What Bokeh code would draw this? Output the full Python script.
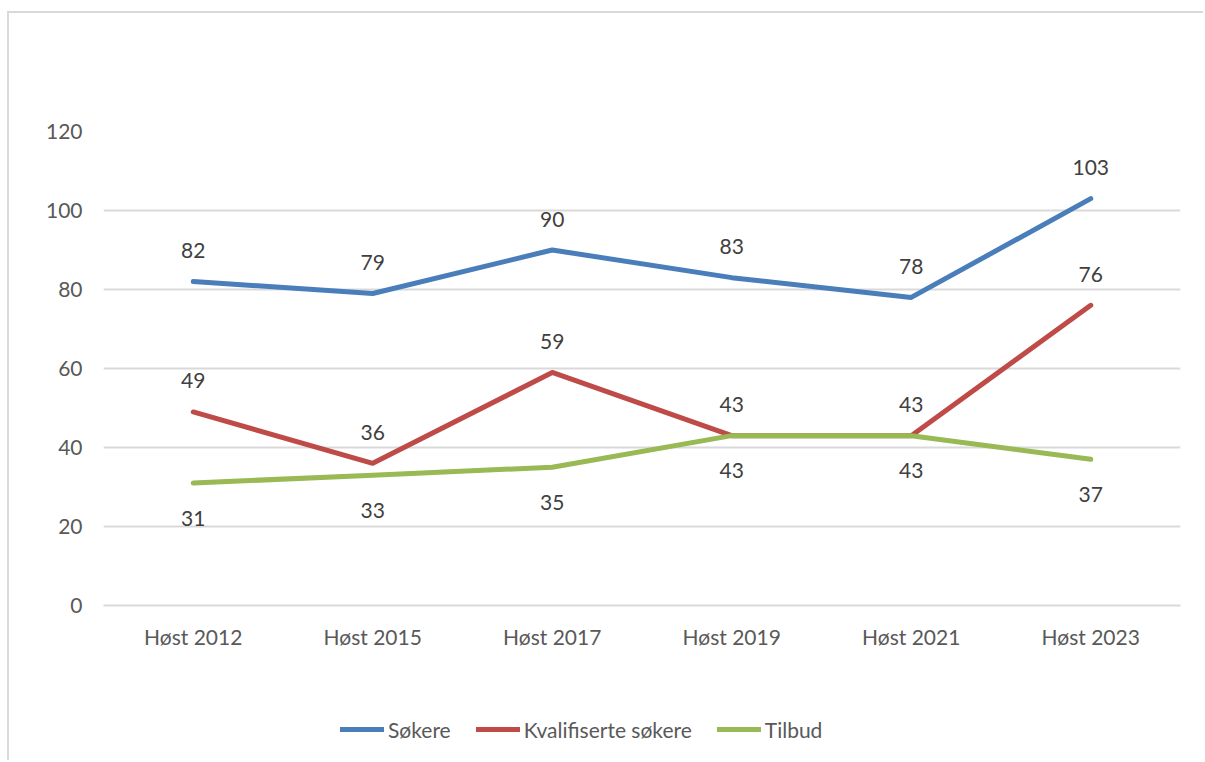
from bokeh.plotting import figure
from bokeh.layouts import column
from bokeh.models import Range1d, FactorRange, Legend, LegendItem
from bokeh.core.properties import value
from bokeh.embed import file_html
from bokeh.resources import INLINE

categories = ["Høst 2012", "Høst 2015", "Høst 2017", "Høst 2019", "Høst 2021", "Høst 2023"]
sokere = [82, 79, 90, 83, 78, 103]
kvalifiserte = [49, 36, 59, 43, 43, 76]
tilbud = [31, 33, 35, 43, 43, 37]
series_names = ["Søkere", "Kvalifiserte søkere", "Tilbud"]
y_ticks = [0, 20, 40, 60, 80, 100, 120]

FONT = "Lato"
FS = "21px"
colors = ["#4A7EBB", "#BE4B48", "#98B954"]
LW = 5

p = figure(width=1194, height=642, x_range=FactorRange(factors=categories),
           y_range=Range1d(0, 120), output_backend="svg", toolbar_location=None,
           min_border_left=94, min_border_right=23, min_border_top=118, min_border_bottom=50)
p.outline_line_color = None
p.background_fill_color = "white"
p.border_fill_color = "white"

p.xgrid.grid_line_color = None
p.ygrid.grid_line_color = "#d9d9d9"
p.ygrid.grid_line_width = 2

p.yaxis.ticker = y_ticks
p.yaxis.axis_line_color = None
p.yaxis.major_tick_line_color = None
p.yaxis.minor_tick_line_color = None
p.yaxis.major_tick_out = 0
p.yaxis.major_tick_in = 0
p.yaxis.major_label_standoff = 21
p.yaxis.major_label_text_font = FONT
p.yaxis.major_label_text_font_size = FS
p.yaxis.major_label_text_color = "#595959"

p.xaxis.axis_line_color = "#d9d9d9"
p.xaxis.axis_line_width = 2
p.xaxis.major_tick_line_color = None
p.xaxis.minor_tick_line_color = None
p.xaxis.major_tick_out = 0
p.xaxis.major_tick_in = 0
p.xaxis.major_label_standoff = 18
p.xaxis.major_label_text_font = FONT
p.xaxis.major_label_text_font_size = FS
p.xaxis.major_label_text_color = "#595959"

data = [sokere, kvalifiserte, tilbud]
offsets = [-31, -31, 35]
for name, vals, col, off in zip(series_names, data, colors, offsets):
    p.line(categories, vals, line_color=col, line_width=LW, line_join="round", line_cap="round")
    p.text(categories, vals, text=[str(v) for v in vals], text_align="center",
           text_baseline="middle", y_offset=off, text_font=value(FONT),
           text_font_size=FS, text_color="#404040")

# legend strip below the chart (proxy renderers carry the series styles, draw nothing)
lg = figure(width=1194, height=105, x_range=Range1d(0, 1), y_range=Range1d(0, 1),
            output_backend="svg", toolbar_location=None,
            x_axis_location=None, y_axis_location=None,
            min_border_left=0, min_border_right=0, min_border_top=0, min_border_bottom=0)
lg.outline_line_color = None
lg.grid.visible = False
lg.background_fill_color = "white"
lg.border_fill_color = "white"
items = []
for name, col in zip(series_names, colors):
    r = lg.line(x=[float("nan")], y=[float("nan")], line_color=col, line_width=LW, line_cap="round")
    items.append(LegendItem(label=name, renderers=[r]))
legend = Legend(items=items, orientation="horizontal", location=(237, 18),
                glyph_width=44, glyph_height=26, label_height=26, label_standoff=4, spacing=25,
                padding=0, margin=0, border_line_color=None, background_fill_alpha=0,
                label_text_font=FONT, label_text_font_size=FS, label_text_color="#595959")
lg.add_layout(legend, "center")

layout = column(p, lg, spacing=0)
layout.styles = {"border-left": "2px solid #d9d9d9", "border-top": "2px solid #d9d9d9",
                 "margin-left": "7px", "margin-top": "11px"}

open("out.html", "w").write(file_html(layout, INLINE))
